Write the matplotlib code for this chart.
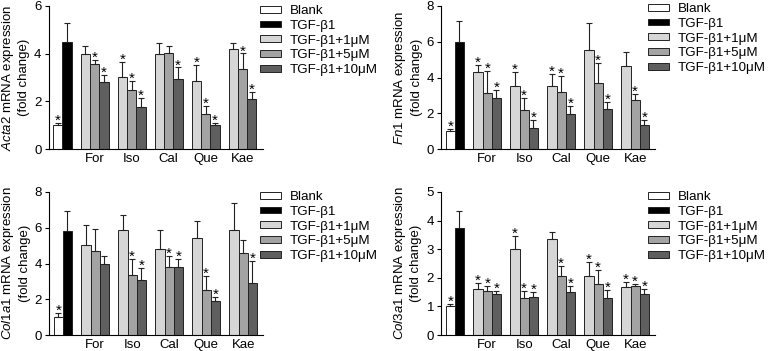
import numpy as np
import matplotlib
matplotlib.use("Agg")
import matplotlib.pyplot as plt
from matplotlib.patches import Patch

plt.rcParams['font.family'] = ['Liberation Sans', 'DejaVu Sans']
plt.rcParams['mathtext.fontset'] = 'custom'
plt.rcParams['mathtext.rm'] = 'Liberation Sans'
plt.rcParams['mathtext.it'] = 'Liberation Sans:italic'

groups = ["For", "Iso", "Cal", "Que", "Kae"]
series = ["Blank", "TGF-β1", "TGF-β1+1μM", "TGF-β1+5μM", "TGF-β1+10μM"]

# value order: Blank, TGF-b1, then (1, 5, 10 uM) for For, Iso, Cal, Que, Kae
acta2 = [1.0, 4.5, 4.0, 3.56, 2.82, 3.02, 2.47, 1.75, 4.0, 4.03, 2.92, 2.86, 1.46, 1.0, 4.19, 3.35, 2.08]
acta2_err = [0.1, 0.8, 0.33, 0.16, 0.3, 0.64, 0.38, 0.4, 0.46, 0.28, 0.5, 0.68, 0.35, 0.08, 0.24, 0.66, 0.32]
acta2_sig = [1, 0, 0, 1, 1, 1, 1, 1, 0, 0, 1, 1, 1, 1, 0, 1, 1]

fn1 = [1.0, 6.0, 4.3, 3.15, 2.85, 3.55, 2.2, 1.2, 3.5, 3.2, 1.97, 5.55, 3.72, 2.25, 4.62, 2.75, 1.35]
fn1_err = [0.12, 1.15, 0.4, 1.2, 0.45, 0.75, 0.65, 0.45, 0.7, 0.9, 0.45, 1.52, 1.1, 0.38, 0.8, 0.33, 0.28]
fn1_sig = [1, 0, 1, 1, 1, 1, 1, 1, 1, 1, 1, 0, 1, 1, 0, 1, 1]

col1a1 = [1.0, 5.8, 5.05, 4.72, 3.95, 5.9, 3.35, 3.1, 4.8, 3.82, 3.8, 5.4, 2.5, 1.88, 5.88, 4.58, 2.9]
col1a1_err = [0.22, 1.15, 1.1, 1.2, 0.45, 0.82, 0.9, 0.65, 1.05, 0.62, 0.45, 0.95, 0.82, 0.25, 1.5, 0.75, 1.25]
col1a1_sig = [1, 0, 0, 0, 0, 0, 1, 1, 0, 1, 1, 0, 1, 1, 0, 0, 1]

col3a1 = [1.0, 3.75, 1.6, 1.55, 1.45, 3.0, 1.3, 1.32, 3.35, 2.05, 1.5, 2.07, 1.8, 1.28, 1.67, 1.7, 1.42]
col3a1_err = [0.08, 0.6, 0.22, 0.18, 0.08, 0.45, 0.24, 0.18, 0.25, 0.37, 0.2, 0.48, 0.47, 0.3, 0.18, 0.07, 0.2]
col3a1_sig = [1, 0, 1, 1, 1, 1, 1, 1, 0, 1, 1, 1, 1, 1, 1, 1, 1]

colors = ["white", "black", "#d6d6d6", "#a3a3a3", "#5f5f5f"]

# bar positions: Blank, TGF, then 3 bars per group with one bar-width gap
pos = [0, 1]
for g in range(len(groups)):
    start = 3 + 4 * g
    pos += [start, start + 1, start + 2]
pos = np.array(pos)
bar_colors = colors[:2] + colors[2:] * len(groups)
group_centers = [4 + 4 * g for g in range(len(groups))]

fig = plt.figure(figsize=(7.68, 3.51), dpi=100)
W, H = 768.0, 351.0


def panel(left, top, gene, vals, errs, sig, ymax, yticks):
    ax = fig.add_axes([left / W, 1 - (top + 143) / H, 214 / W, 143 / H])
    ax.bar(pos, vals, width=1.0, color=bar_colors, edgecolor="#222222", linewidth=0.7)
    ax.errorbar(pos, vals, yerr=[np.zeros(len(vals)), errs], fmt="none",
                ecolor="#222222", elinewidth=0.8, capsize=2.2, capthick=0.8)
    for x, v, e, s in zip(pos, vals, errs, sig):
        if s:
            ax.annotate("*", (x, v + e), xytext=(0, -3.5), textcoords="offset points",
                        ha="center", va="bottom", fontsize=11)
    ax.set_xlim(-1.0, 22.15)
    ax.set_ylim(0, ymax)
    ax.set_yticks(yticks)
    ax.set_xticks(group_centers, groups)
    ax.tick_params(axis="x", length=0, pad=3, labelsize=9.5)
    ax.tick_params(axis="y", length=3, width=0.8, pad=2, labelsize=9.5)
    for sp in ["top", "right"]:
        ax.spines[sp].set_visible(False)
    for sp in ["left", "bottom"]:
        ax.spines[sp].set_linewidth(0.8)
    ax.set_ylabel("$\\it{" + gene + "}$ mRNA expression\n(fold change)", fontsize=9.5,
                  linespacing=1.25, labelpad=3)
    return ax


panel(48.5, 6, "Acta2", acta2, acta2_err, acta2_sig, 6, [0, 2, 4, 6])
panel(441, 6, "Fn1", fn1, fn1_err, fn1_sig, 8, [0, 2, 4, 6, 8])
panel(49, 192, "Col1a1", col1a1, col1a1_err, col1a1_sig, 8, [0, 2, 4, 6, 8])
panel(441, 192, "Col3a1", col3a1, col3a1_err, col3a1_sig, 5, [0, 1, 2, 3, 4, 5])

handles = [Patch(facecolor=c, edgecolor="#222222", linewidth=0.7) for c in colors]
for lx, ly in [(260, 5), (648, 3), (260, 191), (648, 191)]:
    fig.legend(handles, series, loc="upper left", bbox_to_anchor=(lx / W, 1 - ly / H),
               frameon=False, fontsize=9.6, handlelength=1.6, handleheight=0.4,
               handletextpad=0.62, labelspacing=0.21, borderpad=0, borderaxespad=0)

fig.savefig("out.png", dpi=100)
